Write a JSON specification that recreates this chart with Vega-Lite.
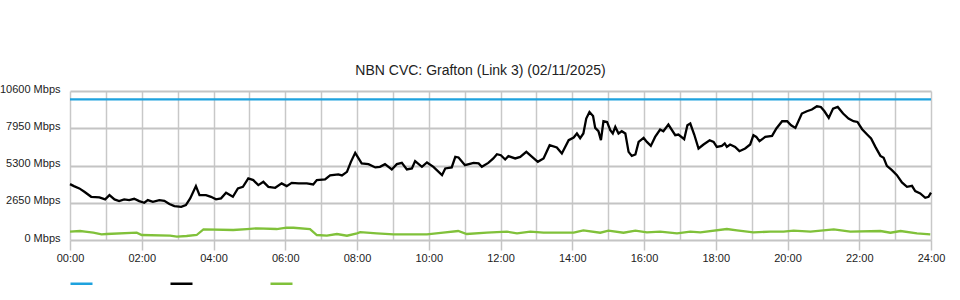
{
  "$schema": "https://vega.github.io/schema/vega-lite/v6.json",
  "autosize": "none",
  "padding": {"left": 70, "top": 91, "right": 29, "bottom": 60},
  "width": 861,
  "height": 149,
  "background": "white",
  "title": {"text": "NBN CVC: Grafton (Link 3) (02/11/2025)", "fontSize": 14, "font": "Liberation Sans", "fontWeight": "normal", "color": "#222", "anchor": "middle", "dx": -20, "baseline": "alphabetic", "offset": -6},
  "config": {
    "view": {"stroke": null},
    "font": "Liberation Sans"
  },
  "data": {"values": [
    {"h":0,"v":10000,"s":"Capacity"},{"h":24,"v":10000,"s":"Capacity"},
    {"h":0,"v":3976,"s":"Download"},{"h":0.11,"v":3834,"s":"Download"},{"h":0.26,"v":3671,"s":"Download"},{"h":0.40,"v":3429,"s":"Download"},{"h":0.59,"v":3074,"s":"Download"},{"h":0.82,"v":3032,"s":"Download"},{"h":0.98,"v":2890,"s":"Download"},{"h":1.10,"v":3195,"s":"Download"},{"h":1.24,"v":2890,"s":"Download"},{"h":1.37,"v":2769,"s":"Download"},{"h":1.51,"v":2890,"s":"Download"},{"h":1.65,"v":2840,"s":"Download"},{"h":1.79,"v":2932,"s":"Download"},{"h":1.93,"v":2769,"s":"Download"},{"h":2.07,"v":2648,"s":"Download"},{"h":2.17,"v":2840,"s":"Download"},{"h":2.31,"v":2719,"s":"Download"},{"h":2.49,"v":2840,"s":"Download"},{"h":2.63,"v":2790,"s":"Download"},{"h":2.77,"v":2556,"s":"Download"},{"h":2.91,"v":2414,"s":"Download"},{"h":3.10,"v":2364,"s":"Download"},{"h":3.23,"v":2485,"s":"Download"},{"h":3.35,"v":2961,"s":"Download"},{"h":3.51,"v":3834,"s":"Download"},{"h":3.61,"v":3195,"s":"Download"},{"h":3.79,"v":3195,"s":"Download"},{"h":3.93,"v":3074,"s":"Download"},{"h":4.07,"v":2890,"s":"Download"},{"h":4.21,"v":2961,"s":"Download"},{"h":4.35,"v":3358,"s":"Download"},{"h":4.54,"v":3074,"s":"Download"},{"h":4.68,"v":3671,"s":"Download"},{"h":4.82,"v":3784,"s":"Download"},{"h":4.97,"v":4381,"s":"Download"},{"h":5.11,"v":4260,"s":"Download"},{"h":5.25,"v":3905,"s":"Download"},{"h":5.39,"v":4139,"s":"Download"},{"h":5.53,"v":3784,"s":"Download"},{"h":5.72,"v":3713,"s":"Download"},{"h":5.90,"v":4026,"s":"Download"},{"h":6.04,"v":3834,"s":"Download"},{"h":6.18,"v":4068,"s":"Download"},{"h":6.37,"v":4026,"s":"Download"},{"h":6.60,"v":4026,"s":"Download"},{"h":6.78,"v":3955,"s":"Download"},{"h":6.88,"v":4260,"s":"Download"},{"h":7.11,"v":4310,"s":"Download"},{"h":7.25,"v":4594,"s":"Download"},{"h":7.48,"v":4665,"s":"Download"},{"h":7.58,"v":4594,"s":"Download"},{"h":7.72,"v":4849,"s":"Download"},{"h":7.83,"v":5559,"s":"Download"},{"h":7.95,"v":6198,"s":"Download"},{"h":8.13,"v":5446,"s":"Download"},{"h":8.32,"v":5396,"s":"Download"},{"h":8.51,"v":5162,"s":"Download"},{"h":8.64,"v":5204,"s":"Download"},{"h":8.78,"v":5396,"s":"Download"},{"h":8.97,"v":5020,"s":"Download"},{"h":9.11,"v":5396,"s":"Download"},{"h":9.25,"v":5488,"s":"Download"},{"h":9.39,"v":5020,"s":"Download"},{"h":9.53,"v":5091,"s":"Download"},{"h":9.62,"v":5609,"s":"Download"},{"h":9.81,"v":5204,"s":"Download"},{"h":9.95,"v":5517,"s":"Download"},{"h":10.13,"v":5204,"s":"Download"},{"h":10.37,"v":4615,"s":"Download"},{"h":10.46,"v":5091,"s":"Download"},{"h":10.64,"v":5162,"s":"Download"},{"h":10.74,"v":5914,"s":"Download"},{"h":10.83,"v":5872,"s":"Download"},{"h":11.01,"v":5325,"s":"Download"},{"h":11.25,"v":5488,"s":"Download"},{"h":11.39,"v":5446,"s":"Download"},{"h":11.48,"v":5204,"s":"Download"},{"h":11.66,"v":5488,"s":"Download"},{"h":11.80,"v":5801,"s":"Download"},{"h":11.90,"v":6106,"s":"Download"},{"h":12.01,"v":6035,"s":"Download"},{"h":12.13,"v":5730,"s":"Download"},{"h":12.22,"v":5964,"s":"Download"},{"h":12.41,"v":5801,"s":"Download"},{"h":12.55,"v":5914,"s":"Download"},{"h":12.72,"v":6269,"s":"Download"},{"h":12.88,"v":5914,"s":"Download"},{"h":13.04,"v":5559,"s":"Download"},{"h":13.20,"v":5801,"s":"Download"},{"h":13.37,"v":6745,"s":"Download"},{"h":13.57,"v":6582,"s":"Download"},{"h":13.71,"v":6156,"s":"Download"},{"h":13.90,"v":7100,"s":"Download"},{"h":14.04,"v":7292,"s":"Download"},{"h":14.13,"v":7576,"s":"Download"},{"h":14.22,"v":7242,"s":"Download"},{"h":14.31,"v":7576,"s":"Download"},{"h":14.39,"v":8641,"s":"Download"},{"h":14.48,"v":9109,"s":"Download"},{"h":14.58,"v":8825,"s":"Download"},{"h":14.64,"v":7973,"s":"Download"},{"h":14.73,"v":7739,"s":"Download"},{"h":14.80,"v":7100,"s":"Download"},{"h":14.87,"v":8449,"s":"Download"},{"h":14.97,"v":8399,"s":"Download"},{"h":15.06,"v":7810,"s":"Download"},{"h":15.13,"v":7576,"s":"Download"},{"h":15.20,"v":8044,"s":"Download"},{"h":15.29,"v":7576,"s":"Download"},{"h":15.38,"v":7739,"s":"Download"},{"h":15.48,"v":7576,"s":"Download"},{"h":15.57,"v":6269,"s":"Download"},{"h":15.66,"v":5985,"s":"Download"},{"h":15.76,"v":6085,"s":"Download"},{"h":15.85,"v":6979,"s":"Download"},{"h":15.99,"v":7263,"s":"Download"},{"h":16.08,"v":6979,"s":"Download"},{"h":16.19,"v":6695,"s":"Download"},{"h":16.31,"v":7334,"s":"Download"},{"h":16.45,"v":7860,"s":"Download"},{"h":16.54,"v":7739,"s":"Download"},{"h":16.68,"v":8215,"s":"Download"},{"h":16.87,"v":7455,"s":"Download"},{"h":16.96,"v":7505,"s":"Download"},{"h":17.12,"v":7171,"s":"Download"},{"h":17.21,"v":8165,"s":"Download"},{"h":17.29,"v":8286,"s":"Download"},{"h":17.40,"v":7505,"s":"Download"},{"h":17.52,"v":6511,"s":"Download"},{"h":17.66,"v":6795,"s":"Download"},{"h":17.83,"v":7100,"s":"Download"},{"h":17.94,"v":6979,"s":"Download"},{"h":18.03,"v":6624,"s":"Download"},{"h":18.17,"v":6695,"s":"Download"},{"h":18.25,"v":6866,"s":"Download"},{"h":18.31,"v":6624,"s":"Download"},{"h":18.40,"v":6795,"s":"Download"},{"h":18.54,"v":6624,"s":"Download"},{"h":18.66,"v":6319,"s":"Download"},{"h":18.82,"v":6511,"s":"Download"},{"h":18.96,"v":6795,"s":"Download"},{"h":19.05,"v":7455,"s":"Download"},{"h":19.13,"v":7334,"s":"Download"},{"h":19.22,"v":7029,"s":"Download"},{"h":19.38,"v":7334,"s":"Download"},{"h":19.57,"v":7405,"s":"Download"},{"h":19.69,"v":7931,"s":"Download"},{"h":19.85,"v":8449,"s":"Download"},{"h":19.99,"v":8449,"s":"Download"},{"h":20.10,"v":8165,"s":"Download"},{"h":20.22,"v":7973,"s":"Download"},{"h":20.40,"v":8996,"s":"Download"},{"h":20.54,"v":9159,"s":"Download"},{"h":20.68,"v":9280,"s":"Download"},{"h":20.82,"v":9514,"s":"Download"},{"h":20.93,"v":9464,"s":"Download"},{"h":21.03,"v":9159,"s":"Download"},{"h":21.15,"v":8683,"s":"Download"},{"h":21.27,"v":9351,"s":"Download"},{"h":21.40,"v":9464,"s":"Download"},{"h":21.55,"v":8996,"s":"Download"},{"h":21.70,"v":8641,"s":"Download"},{"h":21.84,"v":8449,"s":"Download"},{"h":21.95,"v":8399,"s":"Download"},{"h":22.08,"v":7881,"s":"Download"},{"h":22.22,"v":7505,"s":"Download"},{"h":22.33,"v":7221,"s":"Download"},{"h":22.45,"v":6624,"s":"Download"},{"h":22.59,"v":5985,"s":"Download"},{"h":22.68,"v":5843,"s":"Download"},{"h":22.77,"v":5275,"s":"Download"},{"h":22.91,"v":4970,"s":"Download"},{"h":23.05,"v":4615,"s":"Download"},{"h":23.19,"v":4097,"s":"Download"},{"h":23.33,"v":3784,"s":"Download"},{"h":23.47,"v":3855,"s":"Download"},{"h":23.56,"v":3479,"s":"Download"},{"h":23.70,"v":3316,"s":"Download"},{"h":23.84,"v":3003,"s":"Download"},{"h":23.93,"v":3074,"s":"Download"},{"h":24,"v":3373,"s":"Download"},
    {"h":0,"v":589,"s":"Upload"},{"h":0.28,"v":639,"s":"Upload"},{"h":0.42,"v":589,"s":"Upload"},{"h":0.65,"v":518,"s":"Upload"},{"h":0.88,"v":405,"s":"Upload"},{"h":1.02,"v":426,"s":"Upload"},{"h":1.86,"v":518,"s":"Upload"},{"h":2.0,"v":355,"s":"Upload"},{"h":2.79,"v":305,"s":"Upload"},{"h":2.98,"v":234,"s":"Upload"},{"h":3.25,"v":284,"s":"Upload"},{"h":3.53,"v":355,"s":"Upload"},{"h":3.72,"v":760,"s":"Upload"},{"h":4.55,"v":710,"s":"Upload"},{"h":4.93,"v":781,"s":"Upload"},{"h":5.21,"v":831,"s":"Upload"},{"h":5.76,"v":781,"s":"Upload"},{"h":6.04,"v":873,"s":"Upload"},{"h":6.23,"v":873,"s":"Upload"},{"h":6.69,"v":781,"s":"Upload"},{"h":6.88,"v":355,"s":"Upload"},{"h":7.16,"v":305,"s":"Upload"},{"h":7.44,"v":426,"s":"Upload"},{"h":7.72,"v":305,"s":"Upload"},{"h":8.0,"v":476,"s":"Upload"},{"h":8.09,"v":560,"s":"Upload"},{"h":8.55,"v":476,"s":"Upload"},{"h":9.02,"v":405,"s":"Upload"},{"h":9.95,"v":405,"s":"Upload"},{"h":10.40,"v":518,"s":"Upload"},{"h":10.82,"v":639,"s":"Upload"},{"h":11.06,"v":426,"s":"Upload"},{"h":11.62,"v":518,"s":"Upload"},{"h":12.18,"v":589,"s":"Upload"},{"h":12.46,"v":476,"s":"Upload"},{"h":12.83,"v":589,"s":"Upload"},{"h":13.20,"v":518,"s":"Upload"},{"h":14.04,"v":518,"s":"Upload"},{"h":14.31,"v":689,"s":"Upload"},{"h":14.78,"v":518,"s":"Upload"},{"h":15.01,"v":660,"s":"Upload"},{"h":15.43,"v":518,"s":"Upload"},{"h":15.76,"v":660,"s":"Upload"},{"h":16.08,"v":547,"s":"Upload"},{"h":16.45,"v":589,"s":"Upload"},{"h":16.92,"v":476,"s":"Upload"},{"h":17.29,"v":589,"s":"Upload"},{"h":17.57,"v":547,"s":"Upload"},{"h":18.31,"v":781,"s":"Upload"},{"h":18.59,"v":689,"s":"Upload"},{"h":19.05,"v":547,"s":"Upload"},{"h":19.52,"v":589,"s":"Upload"},{"h":19.89,"v":589,"s":"Upload"},{"h":20.17,"v":660,"s":"Upload"},{"h":20.64,"v":589,"s":"Upload"},{"h":21.29,"v":760,"s":"Upload"},{"h":21.75,"v":589,"s":"Upload"},{"h":22.59,"v":639,"s":"Upload"},{"h":22.87,"v":518,"s":"Upload"},{"h":23.15,"v":639,"s":"Upload"},{"h":23.61,"v":476,"s":"Upload"},{"h":23.98,"v":405,"s":"Upload"}
  ]},
  "mark": {"type": "line", "strokeWidth": 2.3, "interpolate": "linear"},
  "encoding": {
    "x": {"field": "h", "type": "quantitative",
      "scale": {"domain": [0, 24], "nice": false, "zero": false},
      "axis": {"title": null, "values": [0,1,2,3,4,5,6,7,8,9,10,11,12,13,14,15,16,17,18,19,20,21,22,23,24],
        "labelExpr": "datum.value % 2 === 0 ? (datum.value < 10 ? '0' : '') + datum.value + ':00' : ''",
        "labelFont": "Liberation Sans", "labelFontSize": 11, "labelColor": "#222", "labelPadding": 2,
        "domain": false, "grid": true, "gridColor": "#c8c8c8", "gridWidth": 1.5,
        "ticks": true, "tickSize": 10, "tickColor": "#c4c4c4", "tickWidth": 1.5,
        "tickOpacity": {"condition": {"test": "datum.value % 2 === 0", "value": 1}, "value": 0},
        "labelOverlap": false, "labelFlush": false}},
    "y": {"field": "v", "type": "quantitative",
      "scale": {"domain": [0, 10600], "nice": false},
      "axis": {"title": null, "values": [0, 2650, 5300, 7950, 10600],
        "labelExpr": "datum.value + ' Mbps'",
        "labelFont": "Liberation Sans", "labelFontSize": 11, "labelColor": "#222", "labelPadding": 10, "labelOffset": -2,
        "domain": false, "ticks": false, "grid": true, "gridColor": "#c4c4c4", "gridWidth": 2}},
    "color": {"field": "s", "type": "nominal",
      "scale": {"domain": ["Capacity", "Download", "Upload"], "range": ["#1ea2de", "#000000", "#80c13a"]},
      "legend": {"title": null, "orient": "none", "legendX": -1, "legendY": 180, "direction": "horizontal",
        "symbolType": "stroke", "symbolSize": 484, "symbolStrokeWidth": 2.5, "labelExpr": "''",
        "labelOffset": 0, "columnPadding": 67, "padding": 0}}
  }
}
